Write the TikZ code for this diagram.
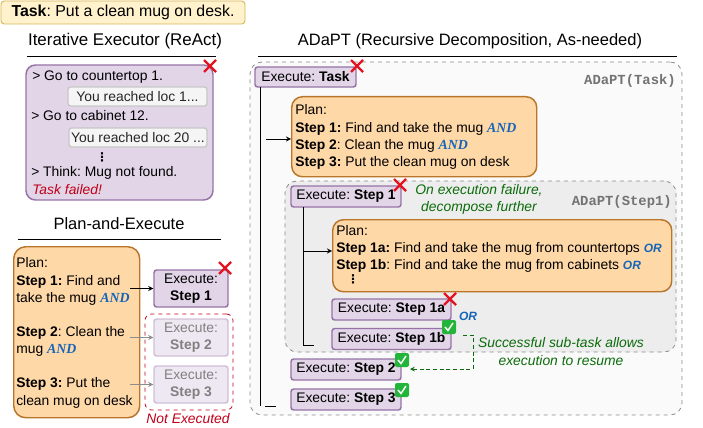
\documentclass[tikz,border=0pt]{standalone}
\usepackage{fontspec}
\setmainfont{Liberation Sans}
\newfontfamily\codefont{Liberation Mono}
\newfontfamily\andfont{Liberation Serif}
\newfontfamily\dotsfont{DejaVu Sans}
\frenchspacing
\definecolor{planfill}{HTML}{FFD8A8}
\definecolor{planline}{HTML}{B9752A}
\definecolor{execfill}{HTML}{E1D5E7}
\definecolor{execline}{HTML}{9673A6}
\definecolor{taskfill}{HTML}{FFF2CC}
\definecolor{taskline}{HTML}{D6B656}
\definecolor{orblue}{HTML}{1565B8}
\definecolor{notered}{HTML}{C00018}
\definecolor{notegreen}{HTML}{0B6B0B}
\definecolor{crossred}{HTML}{E3131F}
\definecolor{checkgreen}{HTML}{22B53A}
\newcommand{\andword}{{\andfont\bfseries\itshape\color{orblue}AND}}
\newcommand{\orword}{{\bfseries\itshape\fontsize{9}{10}\selectfont\color{orblue}OR}}
\tikzset{
  txt/.style={inner sep=0pt,font=\fontsize{10.4}{13}\selectfont},
  titletxt/.style={inner sep=0pt,font=\fontsize{12.35}{14}\selectfont},
  dotstxt/.style={inner sep=0pt,font=\dotsfont\bfseries\fontsize{9}{9}\selectfont},
  labeltxt/.style={inner sep=0pt,anchor=east,text=black!55,font=\codefont\bfseries\fontsize{10.4}{12}\selectfont},
  planbox/.style={draw=planline,fill=planfill,line width=1.1pt,rounded corners=9pt,inner sep=0pt,anchor=north west,font=\fontsize{10.4}{13}\selectfont},
  execbox/.style={draw=execline,fill=execfill,line width=1.1pt,rounded corners=2pt,inner sep=0pt,font=\fontsize{10.4}{13}\selectfont,align=center},
  faded/.style={draw=execline!45,fill=execfill!55,text=black!50},
  obsbox/.style={draw=black!22,fill=black!4,line width=1pt,rounded corners=2pt,inner sep=0pt,font=\fontsize{10.4}{13}\selectfont,text=black!85},
  regionbox/.style={draw=black!45,dashed,line width=0.6pt,rounded corners=9pt},
  rulerline/.style={black,line width=0.6pt},
  linkline/.style={black,line width=0.7pt},
}
\begin{document}
\begin{tikzpicture}[x=0.75pt,y=-0.75pt]
\path[use as bounding box] (0,0) rectangle (703,428);
% task
\node[draw=taskline,fill=taskfill,line width=0.7pt,rounded corners=2.5pt,minimum width=244*0.75pt,minimum height=23*0.75pt,inner sep=0pt,font=\fontsize{11.9}{13}\selectfont] (task) at (123,12.5) {\textbf{Task}: Put a clean mug on desk.};
% react
\node[titletxt,font=\fontsize{12.7}{14}\selectfont] (reacttitle) at (125,41) {Iterative Executor (ReAct)};
\coordinate (reactrulea) at (27,56);
\coordinate (reactruleb) at (216,56);
\draw[rulerline] (reactrulea) -- (reactruleb);
\node[execbox,rounded corners=7pt,minimum width=187*0.75pt,minimum height=135*0.75pt] (reactbox) at (119.5,132.5) {};
\node[obsbox,minimum width=139*0.75pt,minimum height=19*0.75pt] (obsa) at (137.5,96.5) {You reached loc 1...};
\node[obsbox,minimum width=138*0.75pt,minimum height=19*0.75pt] (obsb) at (138,137.5) {You reached loc 20 ...};
\node[txt,anchor=west] (acta) at (32,77) {> Go to countertop 1.};
\node[txt,anchor=west] (actb) at (31,116) {> Go to cabinet 12.};
\node[dotstxt] (actdots) at (102,157) {⋮};
\node[txt,anchor=west] (actc) at (31,173) {> Think: Mug not found.};
\node[txt,anchor=west,text=notered,font=\fontsize{10.4}{13}\itshape] (failed) at (32,190) {Task failed!};
% plan and execute
\node[titletxt] (pextitle) at (119,224) {Plan-and-Execute};
\coordinate (pexrulea) at (18,239);
\coordinate (pexruleb) at (221,239);
\draw[rulerline] (pexrulea) -- (pexruleb);
\node[planbox,minimum width=126*0.75pt,minimum height=171*0.75pt] (pexplan) at (13,246) {};
\node[txt,anchor=north west,align=left] (pexsteps) at (16,257.5) {Plan:\\\textbf{Step 1:} Find and\\take the mug \andword\\[4.4mm]\textbf{Step 2}: Clean the\\mug \andword\\[4.35mm]\textbf{Step 3:} Put the\\clean mug on desk};
\node[regionbox,draw=notered,fill=none,rounded corners=5pt,minimum width=88*0.75pt,minimum height=96*0.75pt,inner sep=0pt] (skipped) at (189,362) {};
\node[execbox,minimum width=74*0.75pt,minimum height=37*0.75pt] (pexa) at (191,288.5) {Execute:\\\textbf{Step 1}};
\node[execbox,faded,minimum width=74*0.75pt,minimum height=37*0.75pt] (pexb) at (191,337.5) {Execute:\\\textbf{Step 2}};
\node[execbox,faded,minimum width=74*0.75pt,minimum height=37*0.75pt] (pexc) at (191,384.5) {Execute:\\\textbf{Step 3}};
\node[txt,text=notered,font=\fontsize{10.4}{13}\itshape] (skiptxt) at (188,419) {Not Executed};
\coordinate (pextaila) at (130,288.5);
\coordinate (pextailb) at (130,337.5);
\coordinate (pextailc) at (130,384.5);
\draw[linkline,-stealth] (pextaila) -- (pexa);
\draw[black!45,line width=0.7pt,-stealth] (pextailb) -- (pexb);
\draw[black!45,line width=0.7pt,-stealth] (pextailc) -- (pexc);
% adapt
\node[titletxt] (adapttitle) at (470,41) {ADaPT (Recursive Decomposition, As-needed)};
\coordinate (adaptrulea) at (258,56);
\coordinate (adaptruleb) at (677,56);
\draw[rulerline] (adaptrulea) -- (adaptruleb);
\node[regionbox,fill=black!2,minimum width=432*0.75pt,minimum height=353*0.75pt,inner sep=0pt] (outer) at (466,238.5) {};
\node[regionbox,fill=black!7,minimum width=391*0.75pt,minimum height=171*0.75pt,inner sep=0pt] (inner) at (480.5,266.5) {};
\node[labeltxt] (outerlabel) at (676,81) {ADaPT(Task)};
\node[labeltxt] (innerlabel) at (672,202) {ADaPT(Step1)};
\node[execbox,minimum width=101*0.75pt,minimum height=20*0.75pt] (exectask) at (305.5,77) {Execute: \textbf{Task}};
\node[planbox,minimum width=245*0.75pt,minimum height=80*0.75pt,rounded corners=8pt] (planone) at (291,96) {};
\node[txt,anchor=north west,align=left] (planonetxt) at (295,104.5) {Plan:\\\textbf{Step 1:} Find and take the mug \andword\\\textbf{Step 2}: Clean the mug \andword\\\textbf{Step 3:} Put the clean mug on desk};
\node[execbox,minimum width=110*0.75pt,minimum height=21*0.75pt] (execone) at (346,196.5) {Execute: \textbf{Step 1}};
\node[txt,align=center,text=notegreen,font=\fontsize{10.4}{13}\itshape] (failnote) at (479,199.5) {On execution failure,\\decompose further};
\node[planbox,minimum width=339*0.75pt,minimum height=72*0.75pt,rounded corners=8pt] (plantwo) at (332,219) {};
\node[txt,anchor=north west,align=left] (plantwotxt) at (336,225) {Plan:\\\textbf{Step 1a:} Find and take the mug from countertops \orword\\\textbf{Step 1b}: Find and take the mug from cabinets \orword};
\node[dotstxt] (plandots) at (353,279) {⋮};
\node[execbox,minimum width=119*0.75pt,minimum height=21*0.75pt] (execonea) at (391.5,309.5) {Execute: \textbf{Step 1a}};
\node[txt] (orlabel) at (468,316) {\orword};
\node[execbox,minimum width=119*0.75pt,minimum height=21*0.75pt] (execoneb) at (391.5,339) {Execute: \textbf{Step 1b}};
\node[execbox,minimum width=110*0.75pt,minimum height=21*0.75pt] (exectwo) at (346,369.5) {Execute: \textbf{Step 2}};
\node[execbox,minimum width=110*0.75pt,minimum height=21*0.75pt] (execthree) at (346,399.5) {Execute: \textbf{Step 3}};
\node[txt,align=center,text=notegreen,font=\fontsize{10.4}{13}\itshape] (resumenote) at (561,351.5) {Successful sub-task allows\\execution to resume};
% tree lines
\coordinate (outertop) at (260,87);
\coordinate (outerbot) at (260,406);
\coordinate (outerticka) at (265,406);
\coordinate (outertickb) at (276,406);
\coordinate (outertail) at (266,139);
\draw[linkline] (outertop) -- (outerbot);
\draw[linkline] (outerticka) -- (outertickb);
\draw[linkline,-stealth] (outertail) -- (planone.west |- outertail);
\coordinate (innertop) at (303,207);
\coordinate (innerbot) at (303,345);
\coordinate (innertick) at (314,345);
\coordinate (innerjoin) at (303,251);
\draw[linkline] (innertop) -- (innerbot) -- (innertick);
\draw[linkline,-stealth] (innerjoin) -- (plantwo.west |- innerjoin);
\coordinate (resumea) at (463,335);
\coordinate (resumeb) at (473,335);
\coordinate (resumec) at (473,369);
\coordinate (resumed) at (410,369);
\draw[notegreen,densely dashed,line width=0.6pt,-stealth] (resumea) -- (resumeb) -- (resumec) -- (resumed);
% marks
\foreach \x/\y in {210/66,225/268,357/66,400/185,450/299}
  \draw[crossred,line width=1.7pt] (\x-6,\y-6) -- (\x+6,\y+6) (\x-6,\y+6) -- (\x+6,\y-6);
\foreach \x/\y in {449/327,402/360,402/390}{
  \fill[checkgreen,rounded corners=1.5pt] (\x-7,\y-7) rectangle (\x+7,\y+7);
  \draw[white,line width=1.1pt] (\x-4,\y) -- (\x-1,\y+3.5) -- (\x+4,\y-4);
}
\end{tikzpicture}
\end{document}
